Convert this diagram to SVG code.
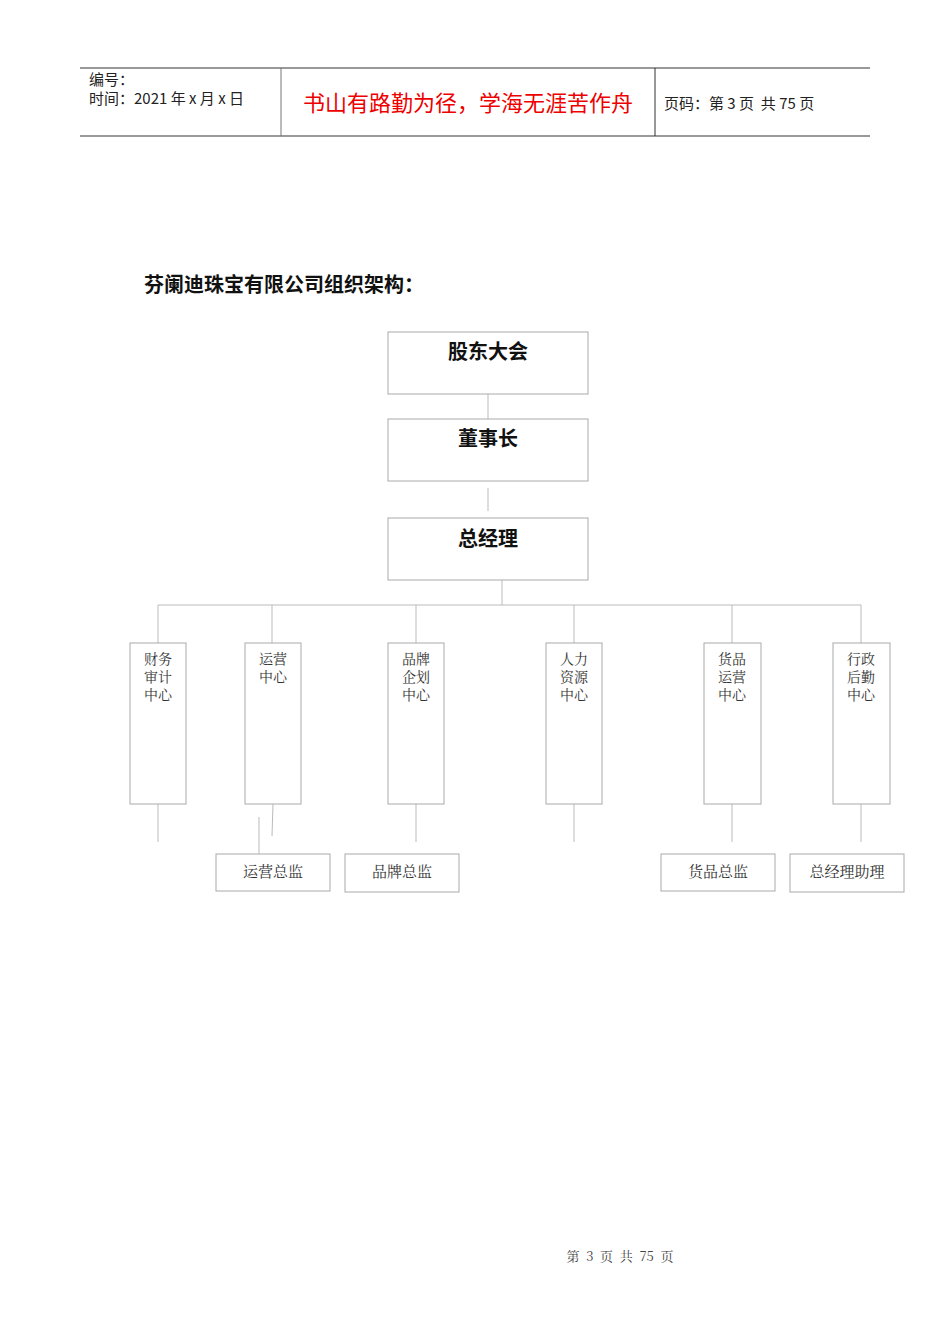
<svg xmlns="http://www.w3.org/2000/svg" width="950" height="1344" viewBox="0 0 950 1344">
<style>
.b{fill:#fff;stroke:#aaa;stroke-width:1}
.l{stroke:#bbb;stroke-width:1;fill:none}
.s{font-family:"Noto Sans CJK SC",sans-serif;font-size:15px;fill:#222}
.t{font-family:"Noto Sans CJK SC",sans-serif;font-size:20px;font-weight:bold;fill:#111;text-anchor:middle}
.v{font-family:"Noto Serif CJK SC","Noto Sans CJK SC",serif;font-size:14px;fill:#333;text-anchor:middle}
.m{font-family:"Noto Serif CJK SC","Noto Sans CJK SC",serif;font-size:15px;fill:#333;text-anchor:middle}
</style>
<rect width="950" height="1344" fill="#fff"/>
<g id="header">
<line x1="80" y1="68" x2="870" y2="68" stroke="#333" stroke-width="1"/>
<line x1="80" y1="136" x2="870" y2="136" stroke="#777" stroke-width="1.5"/>
<line x1="281" y1="68" x2="281" y2="136" stroke="#777"/>
<line x1="655" y1="68" x2="655" y2="136" stroke="#333"/>
<text x="89" y="85" class="s">编号：</text>
<text x="89" y="104" class="s" xml:space="preserve">时间：2021 年 x 月 x 日</text>
<text x="468" y="111" font-family="Noto Sans CJK SC,sans-serif" font-size="22" fill="#e00" text-anchor="middle">书山有路勤为径，学海无涯苦作舟</text>
<text x="664" y="109" class="s" xml:space="preserve">页码：第 3 页  共 75 页</text>
</g>
<text x="144" y="292" font-family="Noto Sans CJK SC,sans-serif" font-size="20" font-weight="bold" fill="#111">芬阑迪珠宝有限公司组织架构：</text>
<g id="connectors" class="l">
<line x1="488" y1="394" x2="488" y2="419"/>
<line x1="488" y1="488" x2="488" y2="511"/>
<line x1="502" y1="580" x2="502" y2="605"/>
<line x1="158" y1="605" x2="861" y2="605"/>
<line x1="158" y1="605" x2="158" y2="643"/>
<line x1="272" y1="605" x2="272" y2="643"/>
<line x1="416" y1="605" x2="416" y2="643"/>
<line x1="574" y1="605" x2="574" y2="643"/>
<line x1="732" y1="605" x2="732" y2="643"/>
<line x1="861" y1="605" x2="861" y2="643"/>
<line x1="158" y1="804" x2="158" y2="842"/>
<line x1="273" y1="804" x2="272" y2="836"/>
<line x1="259" y1="817" x2="259" y2="854"/>
<line x1="416" y1="804" x2="416" y2="842"/>
<line x1="574" y1="804" x2="574" y2="842"/>
<line x1="732" y1="804" x2="732" y2="842"/>
<line x1="861" y1="804" x2="861" y2="842"/>
</g>
<g id="n1"><rect class="b" x="388" y="332" width="200" height="62"/><text class="t" x="488" y="359">股东大会</text></g>
<g id="n2"><rect class="b" x="388" y="419" width="200" height="62"/><text class="t" x="488" y="446">董事长</text></g>
<g id="n3"><rect class="b" x="388" y="518" width="200" height="62"/><text class="t" x="488" y="546">总经理</text></g>
<g id="d1"><rect class="b" x="130" y="643" width="56" height="161"/><text class="v" x="158" y="664">财务</text><text class="v" x="158" y="682">审计</text><text class="v" x="158" y="700">中心</text></g>
<g id="d2"><rect class="b" x="245" y="643" width="56" height="161"/><text class="v" x="273" y="664">运营</text><text class="v" x="273" y="682">中心</text></g>
<g id="d3"><rect class="b" x="388" y="643" width="56" height="161"/><text class="v" x="416" y="664">品牌</text><text class="v" x="416" y="682">企划</text><text class="v" x="416" y="700">中心</text></g>
<g id="d4"><rect class="b" x="546" y="643" width="56" height="161"/><text class="v" x="574" y="664">人力</text><text class="v" x="574" y="682">资源</text><text class="v" x="574" y="700">中心</text></g>
<g id="d5"><rect class="b" x="704" y="643" width="57" height="161"/><text class="v" x="732" y="664">货品</text><text class="v" x="732" y="682">运营</text><text class="v" x="732" y="700">中心</text></g>
<g id="d6"><rect class="b" x="833" y="643" width="57" height="161"/><text class="v" x="861" y="664">行政</text><text class="v" x="861" y="682">后勤</text><text class="v" x="861" y="700">中心</text></g>
<g id="m1"><rect class="b" x="216" y="854" width="114" height="37"/><text class="m" x="273" y="877">运营总监</text></g>
<g id="m2"><rect class="b" x="345" y="854" width="114" height="38"/><text class="m" x="402" y="877">品牌总监</text></g>
<g id="m3"><rect class="b" x="661" y="854" width="114" height="37"/><text class="m" x="718" y="877">货品总监</text></g>
<g id="m4"><rect class="b" x="790" y="854" width="114" height="38"/><text class="m" x="847" y="877">总经理助理</text></g>
<text x="620" y="1261" font-family="Noto Serif CJK SC,Noto Sans CJK SC,serif" font-size="13" fill="#444" text-anchor="middle" xml:space="preserve">第  3  页  共  75  页</text>
</svg>
